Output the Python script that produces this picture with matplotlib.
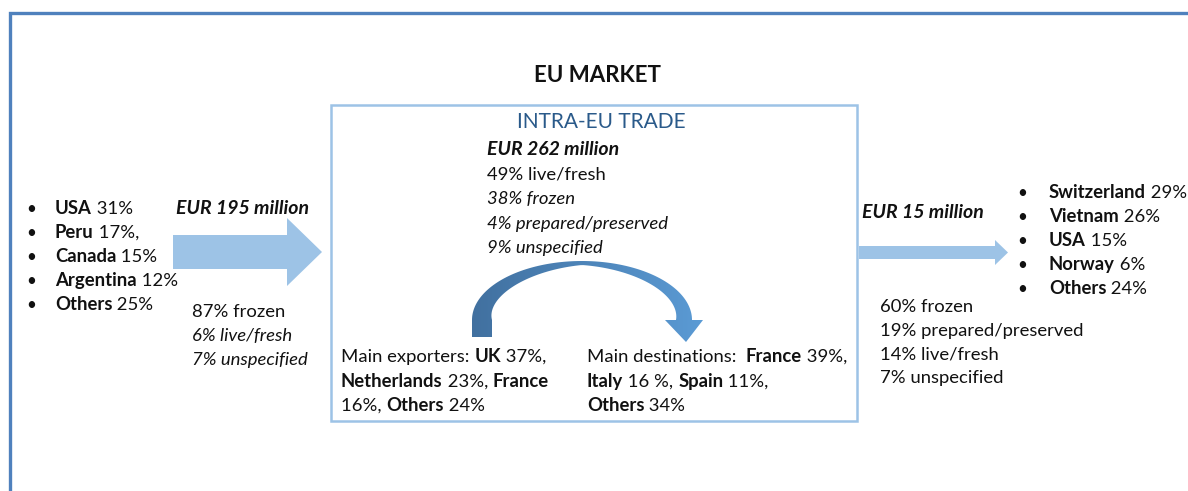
import numpy as np
import matplotlib
matplotlib.use("Agg")
import matplotlib.pyplot as plt
from matplotlib.patches import Polygon, Rectangle
from matplotlib.colors import LinearSegmentedColormap

# ---------------- data ----------------
title = "EU MARKET"
intra_title = "INTRA-EU TRADE"

import_countries = ["USA", "Peru", "Canada", "Argentina", "Others"]
import_shares = ["31%", "17%,", "15%", "12%", "25%"]
import_value = 195
import_mix_pct = [87, 6, 7]
import_mix_names = ["frozen", "live/fresh", "unspecified"]

intra_value = 262
intra_mix_pct = [49, 38, 4, 9]
intra_mix_names = ["live/fresh", "frozen", "prepared/preserved", "unspecified"]

exporters = ["UK", "Netherlands", "France", "Others"]
exporter_shares = [37, 23, 16, 24]
destinations = ["France", "Italy", "Spain", "Others"]
destination_shares = [39, 16, 11, 34]

export_countries = ["Switzerland", "Vietnam", "USA", "Norway", "Others"]
export_shares = [29, 26, 15, 6, 24]
export_value = 15
export_mix_pct = [60, 19, 14, 7]
export_mix_names = ["frozen", "prepared/preserved", "live/fresh", "unspecified"]

# ---------------- styles ----------------
FONT = "Lato"
FS = 13.3
FS_EUR = 14.0
import_mix_styles = ["normal", "italic", "italic"]
intra_mix_styles = ["normal", "italic", "italic", "italic"]
FRAME = "#4F81BD"
BOX = "#9DC3E6"
ARROW = "#9DC3E6"
TXT = "#111111"

W, H = 1188, 491
fig = plt.figure(figsize=(W / 100, H / 100), dpi=100)
ax = fig.add_axes([0, 0, 1, 1])
ax.set_xlim(0, W)
ax.set_ylim(H, 0)
ax.axis("off")
renderer = fig.canvas.get_renderer()


def txt_width(s, weight, style, size):
    t = ax.text(0, 0, s + "|", fontsize=size, fontweight=weight, fontstyle=style, family=FONT)
    t2 = ax.text(0, 0, "|", fontsize=size, fontweight=weight, fontstyle=style, family=FONT)
    w = t.get_window_extent(renderer).width - t2.get_window_extent(renderer).width
    t.remove()
    t2.remove()
    return w


def rich(x, y, parts, size=FS):
    for s, w, st in parts:
        ax.text(x, y, s, fontsize=size, fontweight=w, fontstyle=st, family=FONT,
                va="baseline", ha="left", color=TXT)
        x += txt_width(s, w, st, size)


# outer frame
ax.plot([9.5, 9.5, W + 5], [H + 5, 12.5, 12.5], color=FRAME, lw=2.4, solid_capstyle="butt",
        solid_joinstyle="miter")
# inner box
ax.add_patch(Rectangle((331, 105), 526, 316, fill=False, edgecolor=BOX, lw=1.8))

# title
ax.text(597, 82, title, fontsize=16, fontweight="bold", family=FONT, ha="center",
        va="baseline", color=TXT)
ax.text(601, 128, intra_title, fontsize=15, family=FONT, ha="center", va="baseline",
        color="#2A5A8A")

# left arrow
ax.add_patch(Polygon([(173, 235), (287, 235), (287, 218), (322, 252), (287, 286),
                      (287, 269), (173, 269)], closed=True, facecolor=ARROW, edgecolor="none"))
# right arrow
ax.add_patch(Polygon([(859, 246), (995, 246), (995, 240), (1008, 252.5), (995, 265),
                      (995, 259), (859, 259)], closed=True, facecolor=ARROW, edgecolor="none"))

# curved arrow
cx, cy, rx, ry = 582, 320, 110, 59
t = np.linspace(np.pi, 0, 120)
wt = np.interp(t, [0, np.pi / 2, np.pi], [16, 4, 20])
outer = np.column_stack([cx + rx * np.cos(t), cy - ry * np.sin(t)])
inner = np.column_stack([cx + (rx - wt) * np.cos(t), cy - (ry - wt) * np.sin(t)])
head = [(outer[-1][0], 320), (703, 320), (686, 342), (665, 320), (inner[-1][0], 320)]
pts = [(outer[0][0], 337)] + [tuple(p) for p in outer] + head[:1] + head[1:4] + \
      [tuple(p) for p in inner[::-1]] + [(inner[0][0], 337)]
poly = Polygon(pts, closed=True, facecolor="none", edgecolor="none")
ax.add_patch(poly)
cmap = LinearSegmentedColormap.from_list("g", ["#41709F", "#5B9BD5"])
grad = np.linspace(0, 1, 256).reshape(1, -1)
im = ax.imshow(grad, cmap=cmap, extent=(470, 705, 345, 258), aspect="auto", zorder=2)
im.set_clip_path(poly)
ax.set_xlim(0, W)
ax.set_ylim(H, 0)

# left bullets
for i, (c, s) in enumerate(zip(import_countries, import_shares)):
    y = 214 + 24 * i
    ax.text(26, y, "\u2022", fontsize=FS - 1, family=FONT, va="baseline", color=TXT)
    rich(55, y, [(c, "bold", "normal"), (" " + s, "normal", "normal")])

ax.text(176, 214, f"EUR {import_value} million", fontsize=FS_EUR, fontweight="bold",
        fontstyle="italic", family=FONT, va="baseline", color=TXT)
for i, (p, n, st) in enumerate(zip(import_mix_pct, import_mix_names, import_mix_styles)):
    ax.text(192, 317 + 24 * i, f"{p}% {n}", fontsize=FS, fontstyle=st, family=FONT,
            va="baseline", color=TXT)

# intra EU text
ax.text(487, 155, f"EUR {intra_value} million", fontsize=FS_EUR, fontweight="bold",
        fontstyle="italic", family=FONT, va="baseline", color=TXT)
for i, (p, n, st) in enumerate(zip(intra_mix_pct, intra_mix_names, intra_mix_styles)):
    ax.text(487, 180 + 24.3 * i, f"{p}% {n}", fontsize=FS, fontstyle=st, family=FONT,
            va="baseline", color=TXT)

B, N = ("bold", "normal"), ("normal", "normal")
rich(341, 362, [("Main exporters: ", *N), (exporters[0], *B), (f" {exporter_shares[0]}%,", *N)])
rich(341, 387, [(exporters[1], *B), (f" {exporter_shares[1]}%, ", *N), (exporters[2], *B)])
rich(341, 411, [(f"{exporter_shares[2]}%, ", *N), (exporters[3], *B), (f" {exporter_shares[3]}%", *N)])

rich(587, 362, [("Main destinations:  ", *N), (destinations[0], *B),
                (f" {destination_shares[0]}%,", *N)])
rich(587, 387, [(destinations[1], *B), (f" {destination_shares[1]} %, ", *N),
                (destinations[2], *B), (f" {destination_shares[2]}%,", *N)])
rich(587, 411, [(destinations[3], *B), (f" {destination_shares[3]}%", *N)])

# right side
ax.text(862, 218, f"EUR {export_value} million", fontsize=FS_EUR, fontweight="bold",
        fontstyle="italic", family=FONT, va="baseline", color=TXT)
for i, (c, s) in enumerate(zip(export_countries, export_shares)):
    y = 198 + 24.1 * i
    ax.text(1017, y, "\u2022", fontsize=FS - 1, family=FONT, va="baseline", color=TXT)
    rich(1049, y, [(c, "bold", "normal"), (f" {s}%", "normal", "normal")])
for i, (p, n) in enumerate(zip(export_mix_pct, export_mix_names)):
    ax.text(880, 312 + 23.8 * i, f"{p}% {n}", fontsize=FS, family=FONT,
            va="baseline", color=TXT)

fig.savefig("out.png", dpi=100)
